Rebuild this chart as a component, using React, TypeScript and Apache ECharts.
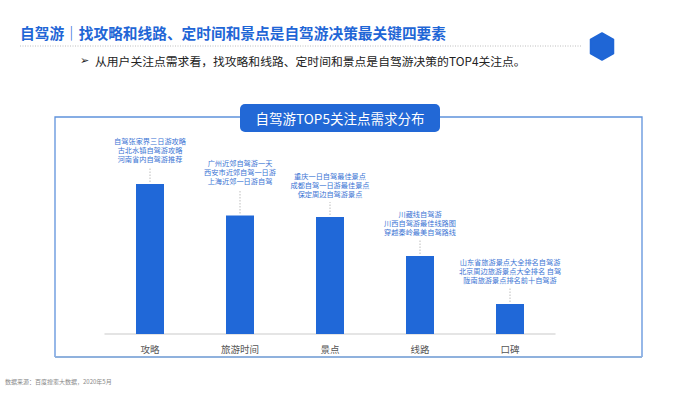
import React, { useEffect, useRef } from "react";
import * as echarts from "echarts";

const categories = ["攻略", "旅游时间", "景点", "线路", "口碑"];
const values = [100, 79, 78, 52, 20];
const keywordLabels = [
  ["自驾张家界三日游攻略", "古北水镇自驾游攻略", "河南省内自驾游推荐"],
  ["广州近郊自驾游一天", "西安市近郊自驾一日游", "上海近郊一日游自驾"],
  ["重庆一日自驾最佳景点", "成都自驾一日游最佳景点", "保定周边自驾游景点"],
  ["川藏线自驾游", "川西自驾游最佳线路图", "穿越秦岭最美自驾路线"],
  ["山东省旅游景点大全排名自驾游", "北京周边旅游景点大全排名 自驾", "陇南旅游景点排名前十自驾游"],
];
const pageTitle = "自驾游｜找攻略和线路、定时间和景点是自驾游决策最关键四要素";
const subTitle = "从用户关注点需求看，找攻略和线路、定时间和景点是自驾游决策的TOP4关注点。";
const chartTitle = "自驾游TOP5关注点需求分布";
const sourceNote = "数据来源：百度搜索大数据，2020年5月";

// layout tweak (label gap above each bar, px)
const labelGaps = [21, 30, 19, 20, 20];

const FONT = '"Noto Sans CJK SC", "Noto Sans", sans-serif';
const BLUE = "#1f66d6";

export default function App() {
  const ref = useRef<HTMLDivElement>(null);
  useEffect(() => {
    if (!ref.current) return;
    const chart = echarts.init(ref.current, null, { renderer: "svg" });
    const option: any = {
      animation: false,
      backgroundColor: "#ffffff",
      textStyle: { fontFamily: FONT },
      grid: { left: 105, right: 145, top: 184, bottom: 60 },
      xAxis: {
        type: "category",
        data: categories,
        axisLine: { lineStyle: { color: "#dcdcdc", width: 1.5 } },
        axisTick: { show: false },
        axisLabel: { color: "#555", fontSize: 9.5, margin: 10, fontFamily: FONT },
      },
      yAxis: {
        type: "value",
        min: 0,
        max: 100,
        show: false,
        splitLine: { show: false },
      },
      series: [
        {
          type: "bar",
          data: values.map((v, i) => ({
            value: v,
            label: { distance: labelGaps[i] },
          })),
          barWidth: 28,
          itemStyle: { color: "#2068d8" },
          label: {
            show: true,
            position: "top",
            color: "#3a74d4",
            fontSize: 7.2,
            lineHeight: 9,
            fontFamily: FONT,
            align: "center",
            formatter: (p: any) => keywordLabels[p.dataIndex].join("\n"),
          },
          z: 2,
        },
        {
          type: "custom",
          data: values.map((v, i) => [i, v]),
          renderItem: (params: any, api: any) => {
            const idx = params.dataIndex;
            const pt = api.coord([api.value(0), api.value(1)]);
            const gap = labelGaps[idx];
            return {
              type: "line",
              shape: { x1: pt[0], y1: pt[1] - 2, x2: pt[0], y2: pt[1] - gap + 4 },
              style: { stroke: "#bdbdbd", lineWidth: 1, lineDash: [1.5, 1.5] },
            };
          },
          z: 1,
        },
      ],
      graphic: [
        {
          type: "text",
          left: 20,
          top: 25,
          style: { text: pageTitle, fill: BLUE, font: `bold 14.7px ${FONT}` },
        },
        {
          type: "line",
          shape: { x1: 20, y1: 46, x2: 582, y2: 46 },
          style: { stroke: "#bdbdbd", lineWidth: 1, lineDash: [1, 1.5] },
        },
        {
          type: "polygon",
          shape: {
            points: [
              [602, 33],
              [613.5, 39.5],
              [613.5, 53.5],
              [602, 60],
              [590.5, 53.5],
              [590.5, 39.5],
            ],
            smooth: 0,
          },
          style: { fill: BLUE, lineJoin: "round", stroke: BLUE, lineWidth: 1.5 },
        },
        {
          type: "text",
          left: 80,
          top: 55,
          style: { text: "➢", fill: "#222", font: `11px "DejaVu Sans", sans-serif` },
        },
        {
          type: "text",
          left: 95,
          top: 55,
          style: { text: subTitle, fill: "#222", font: `11.8px ${FONT}` },
        },
        // frame
        {
          type: "polyline",
          shape: { points: [[55, 357], [55, 117], [642, 117], [642, 357]] },
          style: { stroke: "#5f92dc", lineWidth: 1.3, fill: "none" },
        },
        {
          type: "line",
          shape: { x1: 55, y1: 357, x2: 642, y2: 357 },
          style: { stroke: "#8fb1dd", lineWidth: 2 },
        },
        {
          type: "rect",
          shape: { x: 240, y: 104, width: 200, height: 28, r: 5 },
          style: { fill: "#2268d6" },
        },
        {
          type: "text",
          x: 340,
          y: 118,
          style: {
            text: chartTitle,
            fill: "#ffffff",
            font: `13.5px ${FONT}`,
            textAlign: "center",
            textVerticalAlign: "middle",
          },
        },
        {
          type: "text",
          left: 5,
          top: 378,
          style: { text: sourceNote, fill: "#888", font: `6px ${FONT}` },
        },
      ],
    };
    chart.setOption(option);
    return () => chart.dispose();
  }, []);
  return (
    <div
      ref={ref}
      style={{ position: "fixed", left: 0, top: 0, width: 700, height: 394 }}
    />
  );
}
